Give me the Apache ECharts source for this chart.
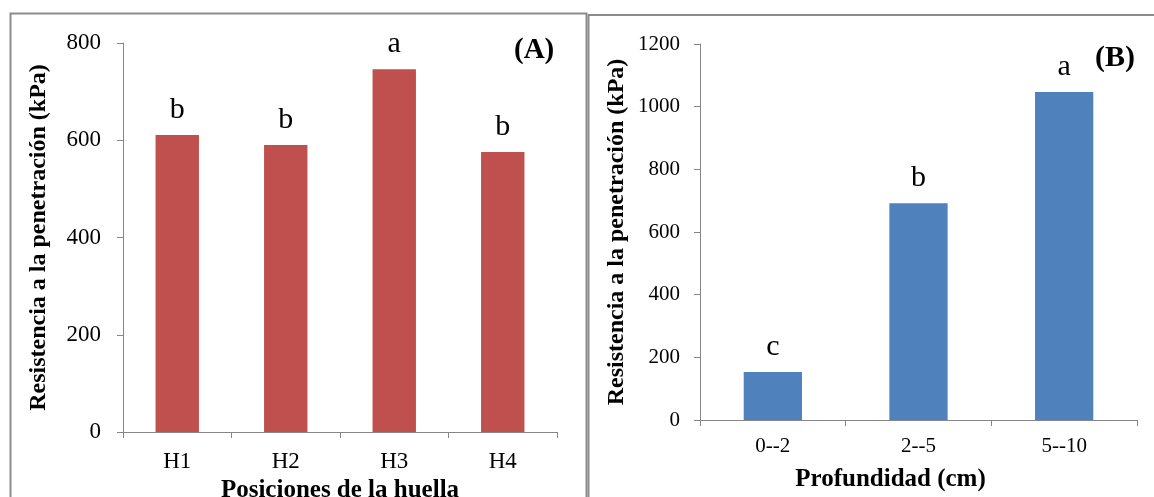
<!DOCTYPE html>
<html>
<head>
<meta charset="utf-8">
<script src="https://cdn.jsdelivr.net/npm/echarts@6/dist/echarts.min.js"></script>
<style>
  html, body { margin: 0; padding: 0; background: #fff; }
  #chart { width: 1154px; height: 497px; }
</style>
</head>
<body>
<div id="chart"></div>
<script>
// Panel A: penetration resistance by footprint position
const posiciones = ['H1', 'H2', 'H3', 'H4'];
const resistenciaPos = [611, 590, 746, 576];
const letrasPos = ['b', 'b', 'a', 'b'];

// Panel B: penetration resistance by depth
const profundidades = ['0--2', '2--5', '5--10'];
const resistenciaProf = [153, 692, 1047];
const letrasProf = ['c', 'b', 'a'];

const ticksA = { min: 0, max: 800, interval: 200 };
const ticksB = { min: 0, max: 1200, interval: 200 };

const FONT = '"Liberation Serif", "Times New Roman", serif';
const AXIS_GRAY = '#868686';
const BORDER_GRAY = '#8c8c8c';

const chart = echarts.init(document.getElementById('chart'), null, { renderer: 'canvas' });

function yAxisCfg(gridIndex, t, labelSize, labelMargin, nameGap) {
  return {
    type: 'value', gridIndex: gridIndex,
    min: t.min, max: t.max, interval: t.interval,
    name: 'Resistencia a la penetración (kPa)',
    nameLocation: 'middle', nameGap: nameGap,
    nameTextStyle: { fontFamily: FONT, fontWeight: 'bold', fontSize: 24, color: '#000' },
    axisLine: { show: true, lineStyle: { color: AXIS_GRAY, width: 1 } },
    axisTick: { show: true, inside: false, length: 6, lineStyle: { color: AXIS_GRAY } },
    axisLabel: {
      fontFamily: FONT, fontSize: labelSize, color: '#000', margin: labelMargin,
      formatter: function (v) { return String(v); }
    },
    splitLine: { show: false }
  };
}

function xAxisCfg(gridIndex, cats, name, nameGap, namePad, labelSize, labelMargin) {
  return {
    type: 'category', gridIndex: gridIndex, data: cats,
    name: name, nameLocation: 'middle', nameGap: nameGap,
    nameTextStyle: { fontFamily: FONT, fontWeight: 'bold', fontSize: 25, color: '#000', padding: namePad },
    axisLine: { show: true, lineStyle: { color: AXIS_GRAY, width: 1 } },
    axisTick: { show: true, alignWithLabel: false, length: 6, lineStyle: { color: AXIS_GRAY } },
    axisLabel: { fontFamily: FONT, fontSize: labelSize, color: '#000', margin: labelMargin },
    splitLine: { show: false }
  };
}

function barSeries(idx, values, letters, color, dist) {
  return {
    type: 'bar', xAxisIndex: idx, yAxisIndex: idx,
    data: values, barWidth: '40%',
    itemStyle: { color: color },
    label: {
      show: true, position: 'top', distance: dist,
      fontFamily: FONT, fontSize: 30, color: '#000',
      formatter: function (p) { return letters[p.dataIndex]; }
    }
  };
}

chart.setOption({
  animation: false,
  backgroundColor: '#fff',
  grid: [
    { left: 123, top: 43, width: 434, height: 389, containLabel: false, outerBoundsMode: 'none' },
    { left: 700, top: 44, width: 437, height: 376, containLabel: false, outerBoundsMode: 'none' }
  ],
  xAxis: [
    xAxisCfg(0, posiciones, 'Posiciones de la huella', 36, [0, 0, 0, 0], 23, 18),
    xAxisCfg(1, profundidades, 'Profundidad (cm)', 47, [0, 56, 0, 0], 21, 16)
  ],
  yAxis: [
    yAxisCfg(0, ticksA, 23, 22, 72),
    yAxisCfg(1, ticksB, 21, 20, 71)
  ],
  series: [
    barSeries(0, resistenciaPos, letrasPos, '#C0504D', 10),
    barSeries(1, resistenciaProf, letrasProf, '#4F81BD', 10)
  ],
  graphic: [
    // panel frames
    { type: 'rect', shape: { x: 10.5, y: 13.5, width: 576, height: 500 },
      style: { fill: null, stroke: BORDER_GRAY, lineWidth: 2 }, silent: true },
    { type: 'rect', shape: { x: 588.5, y: 15, width: 600, height: 500 },
      style: { fill: null, stroke: BORDER_GRAY, lineWidth: 2 }, silent: true },
    // panel tags
    { type: 'text', left: 514, top: 36,
      style: { text: '(A)', font: 'bold 29px ' + FONT, fill: '#000' } },
    { type: 'text', left: 1095, top: 43,
      style: { text: '(B)', font: 'bold 30px ' + FONT, fill: '#000' } }
  ]
});
</script>
</body>
</html>
